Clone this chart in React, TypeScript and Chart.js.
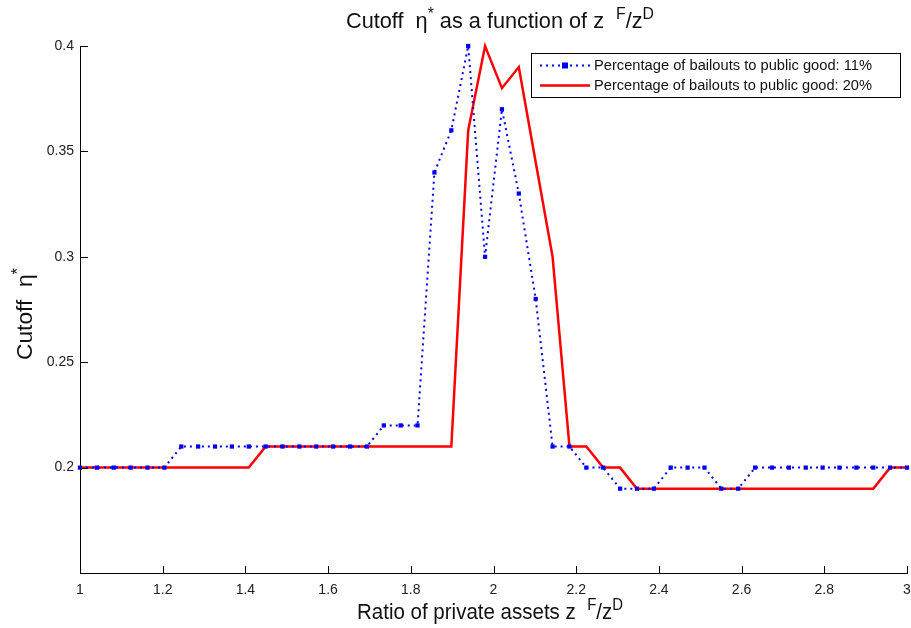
import { useEffect, useRef } from "react";
import { Chart, registerables } from "chart.js";

Chart.register(...registerables);

// x grid: 50 evenly spaced ratios between 1 and 3
const xValues = [
  1.0, 1.0408, 1.0816, 1.1224, 1.1633, 1.2041, 1.2449, 1.2857, 1.3265, 1.3673,
  1.4082, 1.449, 1.4898, 1.5306, 1.5714, 1.6122, 1.6531, 1.6939, 1.7347, 1.7755,
  1.8163, 1.8571, 1.898, 1.9388, 1.9796, 2.0204, 2.0612, 2.102, 2.1429, 2.1837,
  2.2245, 2.2653, 2.3061, 2.3469, 2.3878, 2.4286, 2.4694, 2.5102, 2.551, 2.5918,
  2.6327, 2.6735, 2.7143, 2.7551, 2.7959, 2.8367, 2.8776, 2.9184, 2.9592, 3.0,
];

const blueValues = [
  0.2, 0.2, 0.2, 0.2, 0.2, 0.2, 0.21, 0.21, 0.21, 0.21,
  0.21, 0.21, 0.21, 0.21, 0.21, 0.21, 0.21, 0.21, 0.22, 0.22,
  0.22, 0.34, 0.36, 0.4, 0.3, 0.37, 0.33, 0.28, 0.21, 0.21,
  0.2, 0.2, 0.19, 0.19, 0.19, 0.2, 0.2, 0.2, 0.19, 0.19,
  0.2, 0.2, 0.2, 0.2, 0.2, 0.2, 0.2, 0.2, 0.2, 0.2,
];

const redValues = [
  0.2, 0.2, 0.2, 0.2, 0.2, 0.2, 0.2, 0.2, 0.2, 0.2,
  0.2, 0.21, 0.21, 0.21, 0.21, 0.21, 0.21, 0.21, 0.21, 0.21,
  0.21, 0.21, 0.21, 0.36, 0.4, 0.38, 0.39, 0.345, 0.3, 0.21,
  0.21, 0.2, 0.2, 0.19, 0.19, 0.19, 0.19, 0.19, 0.19, 0.19,
  0.19, 0.19, 0.19, 0.19, 0.19, 0.19, 0.19, 0.19, 0.2, 0.2,
];

const xTickValues = [1, 1.2, 1.4, 1.6, 1.8, 2, 2.2, 2.4, 2.6, 2.8, 3];
const xTickLabels = ["1", "1.2", "1.4", "1.6", "1.8", "2", "2.2", "2.4", "2.6", "2.8", "3"];
const yTickValues = [0.15, 0.2, 0.25, 0.3, 0.35, 0.4];
const yTickLabels = ["", "0.2", "0.25", "0.3", "0.35", "0.4"];

const seriesNames = [
  "Percentage of bailouts to public good: 11%",
  "Percentage of bailouts to public good: 20%",
];

type Seg = { t: string; sup?: boolean };
const titleSegs: Seg[] = [
  { t: "Cutoff  η" },
  { t: "*", sup: true },
  { t: " as a function of z  " },
  { t: "F", sup: true },
  { t: "/z" },
  { t: "D", sup: true },
];
const xLabelSegs: Seg[] = [
  { t: "Ratio of private assets z  " },
  { t: "F", sup: true },
  { t: "/z" },
  { t: "D", sup: true },
];
const yLabelSegs: Seg[] = [{ t: "Cutoff  η" }, { t: "*", sup: true }];

const FONT = "'Liberation Sans', Arial, sans-serif";
const BLUE = "#0000ee";
const RED = "#ff0000";

function segFont(size: number, sup?: boolean) {
  return `${sup ? Math.round(size * 0.72) : size}px ${FONT}`;
}
function measureSegs(ctx: CanvasRenderingContext2D, segs: Seg[], size: number) {
  let w = 0;
  for (const s of segs) {
    ctx.font = segFont(size, s.sup);
    w += ctx.measureText(s.t).width;
  }
  return w;
}
function drawSegs(ctx: CanvasRenderingContext2D, segs: Seg[], size: number, x0: number, baseline: number) {
  let x = x0;
  for (const s of segs) {
    ctx.font = segFont(size, s.sup);
    ctx.fillText(s.t, x, s.sup ? baseline - size * 0.42 : baseline);
    x += ctx.measureText(s.t).width;
  }
}
function drawFitted(
  ctx: CanvasRenderingContext2D,
  segs: Seg[],
  size: number,
  cx: number,
  baseline: number,
  targetW: number,
  rotate = false
) {
  const w = measureSegs(ctx, segs, size);
  const sx = targetW / w;
  ctx.save();
  ctx.translate(cx, baseline);
  if (rotate) ctx.rotate(-Math.PI / 2);
  ctx.scale(sx, 1);
  ctx.textAlign = "left";
  ctx.textBaseline = "alphabetic";
  drawSegs(ctx, segs, size, -w / 2, 0);
  ctx.restore();
}

const decorPlugin = {
  id: "decor",
  afterDatasetsDraw(chart: any) {
    const { ctx, chartArea, scales } = chart;
    const { left, bottom } = chartArea;
    ctx.save();
    ctx.strokeStyle = "#000";
    ctx.lineWidth = 1;
    ctx.beginPath();
    for (const v of xTickValues) {
      const px = Math.round(scales.x.getPixelForValue(v)) + 0.5;
      ctx.moveTo(px, bottom);
      ctx.lineTo(px, bottom - 7);
    }
    for (const v of yTickValues) {
      const py = Math.round(scales.y.getPixelForValue(v)) + 0.5;
      ctx.moveTo(left, py);
      ctx.lineTo(left + 8, py);
    }
    ctx.stroke();
    ctx.restore();
  },
  afterDraw(chart: any) {
    const ctx: CanvasRenderingContext2D = chart.ctx;
    ctx.save();
    ctx.fillStyle = "#111";
    // title
    drawFitted(ctx, titleSegs, 22, 500, 28, 308);
    // x label
    drawFitted(ctx, xLabelSegs, 22, 490, 619, 266);
    // y label (rotated)
    drawFitted(ctx, yLabelSegs, 22, 32, 314, 92, true);

    // legend
    const bx = 531.5, by = 53.5, bw = 369, bh = 44;
    ctx.fillStyle = "#fff";
    ctx.fillRect(bx, by, bw, bh);
    ctx.strokeStyle = "#000";
    ctx.lineWidth = 1;
    ctx.strokeRect(bx, by, bw, bh);
    const rows = [65, 85];
    // blue sample
    ctx.save();
    ctx.strokeStyle = BLUE;
    ctx.lineWidth = 2;
    ctx.setLineDash([2, 4]);
    ctx.beginPath();
    ctx.moveTo(540, rows[0] + 0.5);
    ctx.lineTo(590, rows[0] + 0.5);
    ctx.stroke();
    ctx.setLineDash([]);
    ctx.fillStyle = BLUE;
    ctx.fillRect(562, rows[0] - 2.5, 6, 6);
    ctx.restore();
    // red sample
    ctx.save();
    ctx.strokeStyle = RED;
    ctx.lineWidth = 2.5;
    ctx.beginPath();
    ctx.moveTo(540, rows[1] + 0.5);
    ctx.lineTo(590, rows[1] + 0.5);
    ctx.stroke();
    ctx.restore();
    // legend texts
    ctx.fillStyle = "#111";
    ctx.textBaseline = "middle";
    for (let i = 0; i < seriesNames.length; i++) {
      ctx.font = `14px ${FONT}`;
      const w = ctx.measureText(seriesNames[i]).width;
      ctx.save();
      ctx.translate(594, rows[i] + 1);
      ctx.scale(278 / w, 1);
      ctx.fillText(seriesNames[i], 0, 0);
      ctx.restore();
    }
    ctx.restore();
  },
};

export default function App() {
  const canvasRef = useRef<HTMLCanvasElement | null>(null);

  useEffect(() => {
    const canvas = canvasRef.current;
    if (!canvas) return;
    const chart = new Chart(canvas, {
      type: "line",
      data: {
        datasets: [
          {
            label: seriesNames[0],
            data: xValues.map((x, i) => ({ x, y: blueValues[i] })),
            borderColor: BLUE,
            backgroundColor: BLUE,
            borderWidth: 2,
            borderDash: [2, 4],
            pointStyle: "rect",
            pointRadius: 3,
            pointBorderWidth: 0,
            pointBackgroundColor: BLUE,
            tension: 0,
            fill: false,
            clip: 6,
          },
          {
            label: seriesNames[1],
            data: xValues.map((x, i) => ({ x, y: redValues[i] })),
            borderColor: RED,
            backgroundColor: RED,
            borderWidth: 2.5,
            pointRadius: 0,
            tension: 0,
            fill: false,
            clip: 6,
          },
        ],
      },
      options: {
        animation: false,
        responsive: false,
        devicePixelRatio: 1,
        layout: { padding: { top: 46, right: 3, left: 0, bottom: 0 } },
        plugins: {
          legend: { display: false },
          tooltip: { enabled: false },
          title: { display: false },
        },
        scales: {
          x: {
            type: "linear",
            min: 1,
            max: 3,
            afterFit: (s: any) => {
              s.height = 55;
              s.paddingLeft = 0;
              s.paddingRight = 0;
            },
            afterBuildTicks: (s: any) => {
              s.ticks = xTickValues.map((v) => ({ value: v }));
            },
            ticks: {
              autoSkip: false,
              maxRotation: 0,
              padding: 9,
              color: "#222",
              font: { family: FONT, size: 14 },
              callback: (_v: any, i: number) => xTickLabels[i],
            },
            grid: { display: false, drawTicks: false },
            border: { display: true, color: "#000", width: 1 },
          },
          y: {
            type: "linear",
            min: 0.15,
            max: 0.4,
            afterFit: (s: any) => {
              s.width = 80;
              s.paddingTop = 0;
              s.paddingBottom = 0;
            },
            afterBuildTicks: (s: any) => {
              s.ticks = yTickValues.map((v) => ({ value: v }));
            },
            ticks: {
              autoSkip: false,
              padding: 6,
              color: "#222",
              font: { family: FONT, size: 14 },
              callback: (_v: any, i: number) => yTickLabels[i],
            },
            grid: { display: false, drawTicks: false },
            border: { display: true, color: "#000", width: 1 },
          },
        },
      },
      plugins: [decorPlugin],
    } as any);
    return () => chart.destroy();
  }, []);

  return (
    <div style={{ position: "absolute", left: 0, top: 0, width: 911, height: 628, background: "#fff" }}>
      <canvas ref={canvasRef} width={911} height={628} style={{ display: "block" }} />
    </div>
  );
}
